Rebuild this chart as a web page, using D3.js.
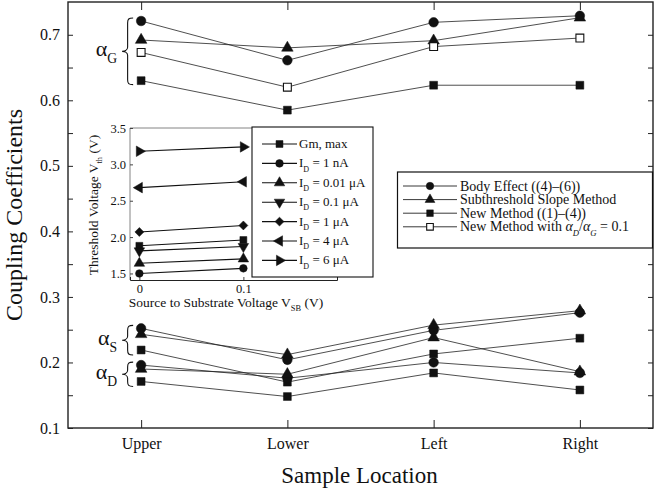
<!doctype html>
<html lang="en">
<head>
    <meta charset="utf-8">
    <title>Coupling Coefficients</title>
    <script src="https://d3js.org/d3.v7.min.js"></script>
    <style>
        body { margin: 0; background: #fff; }
        svg text { font-family: "Liberation Serif", "Times New Roman", serif; fill: #111; }
    </style>
</head>
<body>
<script>

    // sample locations
    var categories = ["Upper", "Lower", "Left", "Right"];

    // alpha_G
    var gBody = [0.721, 0.661, 0.719, 0.729];
    var gSlope = [0.692, 0.680, 0.691, 0.726];
    var gRatio = [0.673, 0.620, 0.682, 0.695];
    var gNew = [0.630, 0.585, 0.623, 0.623];
    // alpha_S
    var sBody = [0.252, 0.204, 0.249, 0.276];
    var sSlope = [0.243, 0.212, 0.257, 0.279];
    var sNew = [0.219, 0.170, 0.213, 0.237];
    // alpha_D
    var dBody = [0.196, 0.176, 0.200, 0.184];
    var dSlope = [0.190, 0.182, 0.238, 0.186];
    var dNew = [0.171, 0.148, 0.184, 0.158];

    var yTicks = [0.1, 0.2, 0.3, 0.4, 0.5, 0.6, 0.7];
    var yMinorTicks = [0.15, 0.25, 0.35, 0.45, 0.55, 0.65];

    // inset : threshold voltage vs V_SB
    var vsb = [0, 0.1];
    var vthGm = [1.88, 1.96];
    var vth1nA = [1.50, 1.57];
    var vth001uA = [1.64, 1.70];
    var vth01uA = [1.81, 1.87];
    var vth1uA = [2.07, 2.16];
    var vth4uA = [2.68, 2.76];
    var vth6uA = [3.18, 3.24];

    var insetYTicks = [1.5, 2.0, 2.5, 3.0, 3.5];
    var insetXTicks = [0, 0.1];

    // helper : text with subscripts / italics
    function rich(sel, parts, size) {
        var off = 0;
        parts.forEach(function(p) {
            var target = p.sub ? size * 0.32 : 0;
            var ts = sel.append("tspan").attr("dy", target - off).text(p.t);
            off = target;
            if (p.sub) ts.attr("font-size", size * 0.62);
            if (p.it) ts.attr("font-style", "italic");
        });
        return sel;
    }

    var symTypes = {circle: d3.symbolCircle, square: d3.symbolSquare, open: d3.symbolSquare,
        triangle: d3.symbolTriangle, down: d3.symbolTriangle, left: d3.symbolTriangle,
        right: d3.symbolTriangle, diamond: d3.symbolSquare};
    var symRot = {down: 180, left: -90, right: 90, diamond: 45};

    function marker(g, shape, size, px, py) {
        g.append("path")
            .attr("d", d3.symbol().type(symTypes[shape]).size(size)())
            .attr("transform", "translate(" + px + "," + py + ") rotate(" + (symRot[shape] || 0) + ")")
            .attr("fill", shape == "open" ? "#fff" : "#111")
            .attr("stroke", "#111")
            .attr("stroke-width", shape == "open" ? 1.1 : 0.5);
    }

    // set the dimensions and margins of the graph
    var margin = {top: 2, right: 7, bottom: 65, left: 68},
        width = 660 - margin.left - margin.right,
        height = 493 - margin.top - margin.bottom;

    var svg = d3.select("body").append("svg")
        .attr("width", 660)
        .attr("height", 493);

    var g = svg.append("g")
        .attr("transform", "translate(" + margin.left + "," + margin.top + ")");

    // set the ranges
    var x = d3.scalePoint().domain(categories).range([0, width]).padding(0.5);
    var y = d3.scaleLinear().domain([0.1, 0.75]).range([height, 0]);

    // axes (ticks pointing inward)
    var allY = yTicks.concat(yMinorTicks);
    g.append("g")
        .call(d3.axisLeft(y).tickValues(allY).tickSize(-5).tickPadding(8)
            .tickFormat(function(d) { return yTicks.indexOf(d) >= 0 ? d3.format(".1f")(d) : ""; }))
        .call(function(a) { a.select(".domain").remove(); a.selectAll("text").attr("font-size", 16).attr("font-family", null); });
    g.append("g")
        .attr("transform", "translate(" + width + ",0)")
        .call(d3.axisRight(y).tickValues(allY).tickSize(-5).tickFormat(""))
        .call(function(a) { a.select(".domain").remove(); });
    g.append("g")
        .attr("transform", "translate(0," + height + ")")
        .call(d3.axisBottom(x).tickSize(-8).tickPadding(10))
        .call(function(a) { a.select(".domain").remove(); a.selectAll("text").attr("font-size", 16).attr("font-family", null); });
    g.append("g")
        .call(d3.axisTop(x).tickSize(-8).tickFormat(""))
        .call(function(a) { a.select(".domain").remove(); });
    g.selectAll(".tick line").attr("stroke", "#222");

    g.append("rect")
        .attr("width", width).attr("height", height)
        .attr("fill", "none").attr("stroke", "#222").attr("stroke-width", 1.4);

    // axis titles
    svg.append("text")
        .attr("transform", "translate(22," + (margin.top + height / 2) + ") rotate(-90)")
        .attr("text-anchor", "middle")
        .attr("font-size", 24)
        .text("Coupling Coefficients");
    svg.append("text")
        .attr("x", margin.left + width / 2 - 1)
        .attr("y", 483)
        .attr("text-anchor", "middle")
        .attr("font-size", 23)
        .text("Sample Location");

    // main series
    var series = [
        {v: gBody, s: "circle"}, {v: gSlope, s: "triangle"}, {v: gRatio, s: "open"}, {v: gNew, s: "square"},
        {v: sBody, s: "circle"}, {v: sSlope, s: "triangle"}, {v: sNew, s: "square"},
        {v: dBody, s: "circle"}, {v: dSlope, s: "triangle"}, {v: dNew, s: "square"}
    ];
    var sizes = {circle: 72, triangle: 58, square: 62, open: 62};

    var line = d3.line()
        .x(function(d, i) { return x(categories[i]); })
        .y(function(d) { return y(d); });

    series.forEach(function(sr) {
        g.append("path")
            .attr("d", line(sr.v))
            .attr("fill", "none")
            .attr("stroke", "#222")
            .attr("stroke-width", 0.8);
    });
    series.forEach(function(sr) {
        sr.v.forEach(function(d, i) {
            marker(g, sr.s, sizes[sr.s], x(categories[i]), y(d));
        });
    });

    // braces for alpha groups
    function brace(top, bottom, label) {
        var bx = x(categories[0]) - 8, w = 11, mid = (top + bottom) / 2, h = bx - w / 2;
        var p = "M" + bx + "," + top +
            " C" + (h + 1) + "," + top + " " + h + "," + (top + 1) + " " + h + "," + (top + 5) +
            " L" + h + "," + (mid - 4) +
            " C" + h + "," + (mid - 1) + " " + (bx - w + 2) + "," + mid + " " + (bx - w) + "," + mid +
            " C" + (bx - w + 2) + "," + mid + " " + h + "," + (mid + 1) + " " + h + "," + (mid + 4) +
            " L" + h + "," + (bottom - 5) +
            " C" + h + "," + (bottom - 1) + " " + (h + 1) + "," + bottom + " " + bx + "," + bottom;
        g.append("path").attr("d", p).attr("fill", "none").attr("stroke", "#111").attr("stroke-width", 1.1);
        var t = g.append("text")
            .attr("x", bx - w - 5)
            .attr("y", mid + 5)
            .attr("text-anchor", "end")
            .attr("font-size", 22);
        rich(t, [{t: "\u03b1"}, {t: label, sub: true}], 22);
    }
    brace(y(gBody[0]) - 3, y(gNew[0]) + 4, "G");
    brace(y(sBody[0]) - 3, y(sNew[0]) + 5, "S");
    brace(y(dBody[0]) - 3, y(dNew[0]) + 5, "D");

    // main legend
    var lg = svg.append("g");
    lg.append("rect")
        .attr("x", 397.5).attr("y", 172).attr("width", 255).attr("height", 76)
        .attr("fill", "#fff").attr("stroke", "#111").attr("stroke-width", 1.2);
    var legendItems = [
        {s: "circle", parts: [{t: "Body Effect ((4)\u2013(6))"}]},
        {s: "triangle", parts: [{t: "Subthreshold Slope Method"}]},
        {s: "square", parts: [{t: "New Method ((1)\u2013(4))"}]},
        {s: "open", parts: [{t: "New Method with "}, {t: "\u03b1", it: true}, {t: "D", sub: true, it: true},
            {t: "/"}, {t: "\u03b1", it: true}, {t: "G", sub: true, it: true}, {t: " = 0.1"}]}
    ];
    legendItems.forEach(function(it, i) {
        var ly = 186 + i * 13.6;
        lg.append("line").attr("x1", 403).attr("x2", 457).attr("y1", ly).attr("y2", ly)
            .attr("stroke", "#222").attr("stroke-width", 0.9);
        marker(lg, it.s, it.s == "triangle" ? 42 : 44, 430, ly);
        rich(lg.append("text").attr("x", 460).attr("y", ly + 4.5).attr("font-size", 14), it.parts, 14);
    });

    // ---------- inset ----------
    var ix = d3.scaleLinear().domain([-0.009, 0.19]).range([130, 337]);
    var iy = d3.scaleLinear().domain([1.41, 3.5]).range([280, 128]);

    var ig = svg.append("g");
    ig.append("rect").attr("x", 130).attr("y", 128).attr("width", 207).attr("height", 152).attr("fill", "#fff");
    ig.append("line").attr("x1", 130).attr("x2", 130).attr("y1", 128).attr("y2", 280).attr("stroke", "#666").attr("stroke-width", 0.8);
    ig.append("line").attr("x1", 130).attr("x2", 337).attr("y1", 128).attr("y2", 128).attr("stroke", "#666").attr("stroke-width", 0.8);

    ig.append("g")
        .attr("transform", "translate(130,0)")
        .call(d3.axisLeft(iy).tickValues(insetYTicks).tickSize(-3).tickPadding(4).tickFormat(d3.format(".1f")))
        .call(function(a) { a.select(".domain").remove(); a.selectAll("text").attr("font-size", 12.5).attr("font-family", null); });
    ig.append("g")
        .attr("transform", "translate(0,280)")
        .call(d3.axisBottom(ix).tickValues(insetXTicks).tickSize(-3).tickPadding(4).tickFormat(function(d) { return d === 0 ? "0" : d3.format(".1f")(d); }))
        .call(function(a) { a.select(".domain").attr("stroke", "#222"); a.selectAll("text").attr("font-size", 12.5).attr("font-family", null); });
    ig.selectAll(".tick line").attr("stroke", "#444");

    var inset = [
        {v: vthGm, s: "square", label: [{t: "Gm, max"}]},
        {v: vth1nA, s: "circle", label: [{t: "I"}, {t: "D", sub: true}, {t: " = 1 nA"}]},
        {v: vth001uA, s: "triangle", label: [{t: "I"}, {t: "D", sub: true}, {t: " = 0.01 \u03bcA"}]},
        {v: vth01uA, s: "down", label: [{t: "I"}, {t: "D", sub: true}, {t: " = 0.1 \u03bcA"}]},
        {v: vth1uA, s: "diamond", label: [{t: "I"}, {t: "D", sub: true}, {t: " = 1 \u03bcA"}]},
        {v: vth4uA, s: "left", label: [{t: "I"}, {t: "D", sub: true}, {t: " = 4 \u03bcA"}]},
        {v: vth6uA, s: "right", label: [{t: "I"}, {t: "D", sub: true}, {t: " = 6 \u03bcA"}]}
    ];
    var isizes = {square: 48, circle: 46, triangle: 48, down: 48, left: 48, right: 48, diamond: 40};

    var iline = d3.line()
        .x(function(d, i) { return ix(vsb[i]); })
        .y(function(d) { return iy(d); });

    inset.forEach(function(sr) {
        ig.append("path").attr("d", iline(sr.v)).attr("fill", "none").attr("stroke", "#111").attr("stroke-width", 1.1);
        sr.v.forEach(function(d, i) { marker(ig, sr.s, isizes[sr.s], ix(vsb[i]), iy(d)); });
    });

    // inset legend
    ig.append("rect")
        .attr("x", 252).attr("y", 127).attr("width", 121).attr("height", 150)
        .attr("fill", "#fff").attr("stroke", "#111").attr("stroke-width", 1.1);
    inset.forEach(function(sr, i) {
        var ly = 144 + i * 19.4;
        ig.append("line").attr("x1", 262).attr("x2", 297).attr("y1", ly).attr("y2", ly)
            .attr("stroke", "#111").attr("stroke-width", 1.1);
        marker(ig, sr.s, isizes[sr.s], 279.5, ly);
        rich(ig.append("text").attr("x", 299).attr("y", ly + 4).attr("font-size", 13), sr.label, 13);
    });

    // inset axis titles
    rich(ig.append("text")
        .attr("transform", "translate(98,205) rotate(-90)")
        .attr("text-anchor", "middle")
        .attr("font-size", 13.5),
        [{t: "Threshold Voltage V"}, {t: "th", sub: true}, {t: " (V)"}], 13.5);
    rich(ig.append("text")
        .attr("x", 226).attr("y", 307)
        .attr("text-anchor", "middle")
        .attr("font-size", 13.5),
        [{t: "Source to Substrate Voltage V"}, {t: "SB", sub: true}, {t: " (V)"}], 13.5);

</script>
</body>
</html>
